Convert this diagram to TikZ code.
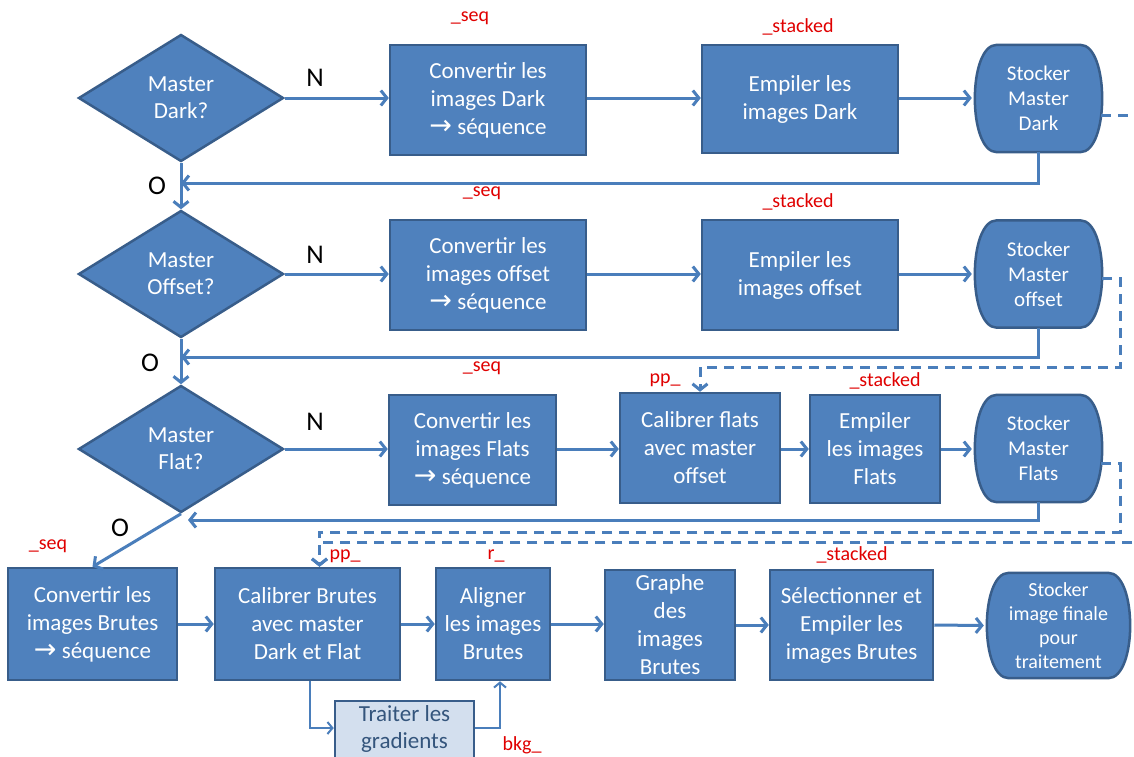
\documentclass[tikz,border=0pt]{standalone}
\usepackage{fontspec}
\setmainfont{Carlito}
\newfontfamily\arrowfont{DejaVu Sans}
\usetikzlibrary{shapes.geometric,arrows.meta,calc}
\definecolor{bfill}{HTML}{4F81BD}
\definecolor{bline}{HTML}{385D8A}
\definecolor{cline}{HTML}{4A7EBB}
\definecolor{lfill}{HTML}{D3DFEE}
\definecolor{ltext}{HTML}{34557C}
\definecolor{lab}{HTML}{E00000}
\newcommand{\arr}{{\arrowfont\fontsize{27}{20}\selectfont →}}
\pgfdeclarelayer{paper}
\pgfdeclarelayer{shapes}
\pgfsetlayers{paper,shapes,main}
% barrel outline for a "Stocker" node
\newcommand{\barrel}[1]{%
  \begin{pgfonlayer}{shapes}
  \path[fill=bfill, draw=bline, line width=2.5pt]
    ([xshift=22pt]#1.north west) -- ([xshift=-22pt]#1.north east)
    .. controls ([xshift=7.3pt]#1.north east) and ([xshift=7.3pt]#1.south east) ..
    ([xshift=-22pt]#1.south east) -- ([xshift=22pt]#1.south west)
    .. controls ([xshift=-7.3pt]#1.south west) and ([xshift=-7.3pt]#1.north west) ..
    cycle;
  \end{pgfonlayer}}
\begin{document}
\begin{tikzpicture}[x=1pt,y=-1pt,
  box/.style={rectangle, fill=bfill, draw=bline, line width=2.5pt, text=white, align=center,
    font=\fontsize{23}{28}\selectfont, inner sep=0pt},
  dec/.style={diamond, fill=bfill, draw=bline, line width=2.5pt, text=white, align=center,
    font=\fontsize{23}{27}\selectfont, inner sep=0pt, aspect=1.6,
    minimum width=205pt, minimum height=127pt},
  store/.style={rectangle, text=white, align=center, font=\fontsize{21}{25}\selectfont,
    inner sep=0pt, minimum width=127pt, minimum height=107pt},
  conn/.style={draw=cline, line width=3pt, -{Straight Barb[length=6pt,width=15pt]}},
  thin/.style={draw=cline, line width=2pt, -{Straight Barb[length=5pt,width=12pt]}},
  dconn/.style={conn, dash pattern=on 10pt off 7pt},
  redlab/.style={text=lab, font=\fontsize{20}{20}\selectfont, inner sep=0pt},
  yn/.style={font=\fontsize{27}{27}\selectfont, inner sep=0pt}
]
\useasboundingbox (0,0) rectangle (1134,756);
\clip (0,0) rectangle (1134,756);
\begin{pgfonlayer}{paper}
\fill[white] (0,0) rectangle (1134,756);
\end{pgfonlayer}

% decisions
\node[dec] (d1) at (181,98) {Master\\Dark?};
\node[dec] (d2) at (181,274) {Master\\Offset?};
\node[dec] (d3) at (181,449) {Master\\Flat?};

% row 1
\node[box, minimum width=196pt, minimum height=110pt] (c1) at (488,100) {Convertir les\\images Dark\\\arr{} séquence};
\node[box, minimum width=196pt, minimum height=108pt] (e1) at (800,99) {Empiler les\\images Dark};
\node[store] (s1) at (1038.5,98.5) {Stocker\\Master\\Dark};

% row 2
\node[box, minimum width=196pt, minimum height=110pt] (c2) at (488,275) {Convertir les\\images offset\\\arr{} séquence};
\node[box, minimum width=196pt, minimum height=110pt] (e2) at (800,275) {Empiler les\\images offset};
\node[store] (s2) at (1038.5,274) {Stocker\\Master\\offset};

% row 3
\node[box, minimum width=167pt, minimum height=110pt] (c3) at (472.5,450) {Convertir les\\images Flats\\\arr{} séquence};
\node[box, minimum width=160pt, minimum height=110pt] (k3) at (700,448) {Calibrer flats\\avec master\\offset};
\node[box, minimum width=130pt, minimum height=108pt] (e3) at (875,449) {Empiler\\les images\\Flats};
\node[store] (s3) at (1038.5,448.5) {Stocker\\Master\\Flats};

% row 4
\node[box, minimum width=169pt, minimum height=112pt] (c4) at (92.5,624) {Convertir les\\images Brutes\\\arr{} séquence};
\node[box, minimum width=185pt, minimum height=112pt] (k4) at (307.5,624) {Calibrer Brutes\\avec master\\Dark et Flat};
\node[box, minimum width=114pt, minimum height=112pt] (a4) at (493,624) {Aligner\\les images\\Brutes};
\node[box, minimum width=130pt, minimum height=110pt] (g4) at (670,625) {Graphe\\des\\images\\Brutes};
\node[box, minimum width=163pt, minimum height=110pt] (s4) at (851.5,625) {Sélectionner et\\Empiler les\\images Brutes};
\node[store, minimum width=143pt, minimum height=105pt, font=\fontsize{20}{24}\selectfont] (f4) at (1058.5,625.5) {Stocker\\image finale\\pour\\traitement};
\node[box, fill=lfill, text=ltext, minimum width=139pt, minimum height=70pt] (t4) at (404.5,736) {};
\node[text=ltext, align=center, font=\fontsize{23}{27}\selectfont, inner sep=0pt] (t4txt) at (404.5,729) {Traiter les\\gradients};

\barrel{s1}
\barrel{s2}
\barrel{s3}
\barrel{f4}

% N / O labels
\node[yn] (n1) at (315,78) {N};
\node[yn] (n2) at (315,255) {N};
\node[yn] (n3) at (315,422) {N};
\node[yn] (o1) at (157,186) {O};
\node[yn] (o2) at (150,363) {O};
\node[yn] (o3) at (120,528) {O};

% red suffix labels
\node[redlab] (l1) at (470,18) {\_seq};
\node[redlab] (l2) at (798,27) {\_stacked};
\node[redlab] (l3) at (482,193) {\_seq};
\node[redlab] (l4) at (798,202) {\_stacked};
\node[redlab] (l5) at (482,368) {\_seq};
\node[redlab] (l6) at (665,380) {pp\_};
\node[redlab] (l7) at (885,381) {\_stacked};
\node[redlab] (l8) at (48,546) {\_seq};
\node[redlab] (l9) at (345,556) {pp\_};
\node[redlab] (l10) at (496,556) {r\_};
\node[redlab] (l11) at (852,555) {\_stacked};
\node[redlab] (l12) at (522,745) {bkg\_};

% junction coordinates
\coordinate (j1) at (181,183);
\coordinate (j2) at (181,357);
\coordinate (j3) at (188,520);
\coordinate (q1) at (1120,367);
\coordinate (q2) at (1120,532);
\coordinate (q3) at (1150,542);

% row 1 flow
\draw[conn] (d1.east) -- (d1.east -| c1.west);
\draw[conn] (c1.east |- d1.east) -- (d1.east -| e1.west);
\draw[conn] (e1.east |- d1.east) -- ([xshift=-3pt]d1.east -| s1.west);
\draw[conn] (s1.south) |- (j1);
\draw[conn] (d1.south) -- (d2.north);
% row 2 flow
\draw[conn] (d2.east) -- (d2.east -| c2.west);
\draw[conn] (c2.east |- d2.east) -- (d2.east -| e2.west);
\draw[conn] (e2.east |- d2.east) -- ([xshift=-3pt]d2.east -| s2.west);
\draw[conn] (s2.south) |- (j2);
\draw[conn] (d2.south) -- (d3.north);
% row 3 flow
\draw[conn] (d3.east) -- (d3.east -| c3.west);
\draw[conn] (c3.east |- d3.east) -- (d3.east -| k3.west);
\draw[conn] (k3.east |- d3.east) -- (d3.east -| e3.west);
\draw[conn] (e3.east |- d3.east) -- ([xshift=-3pt]d3.east -| s3.west);
\draw[conn] (s3.south) |- (j3);
\draw[conn] (d3.south) -- (c4.north);
% row 4 flow
\draw[conn] (c4.east) -- (k4.west);
\draw[conn] (k4.east) -- (a4.west);
\draw[conn] (a4.east) -- (g4.west |- a4.east);
\draw[conn] (g4.east) -- (s4.west);
\draw[conn] (s4.east) -- ([xshift=-3pt]f4.west);
\draw[thin] ([xshift=2pt]k4.south) |- ([yshift=8pt]t4.west);
\draw[thin] ([yshift=8pt]t4.east) -| ([xshift=7pt]a4.south);

% dashed links
\draw[dconn] ([yshift=-4pt]s2.east) -| (q1) -| (k3.north);
\draw[dconn] ([yshift=-15pt, xshift=-1pt]s3.east) -| (q2) -| ([xshift=12pt]k4.north);
\draw[dconn] ([yshift=-17pt, xshift=-1pt]s1.east) -| (q3) -| ([xshift=12pt]k4.north);
\end{tikzpicture}
\end{document}
